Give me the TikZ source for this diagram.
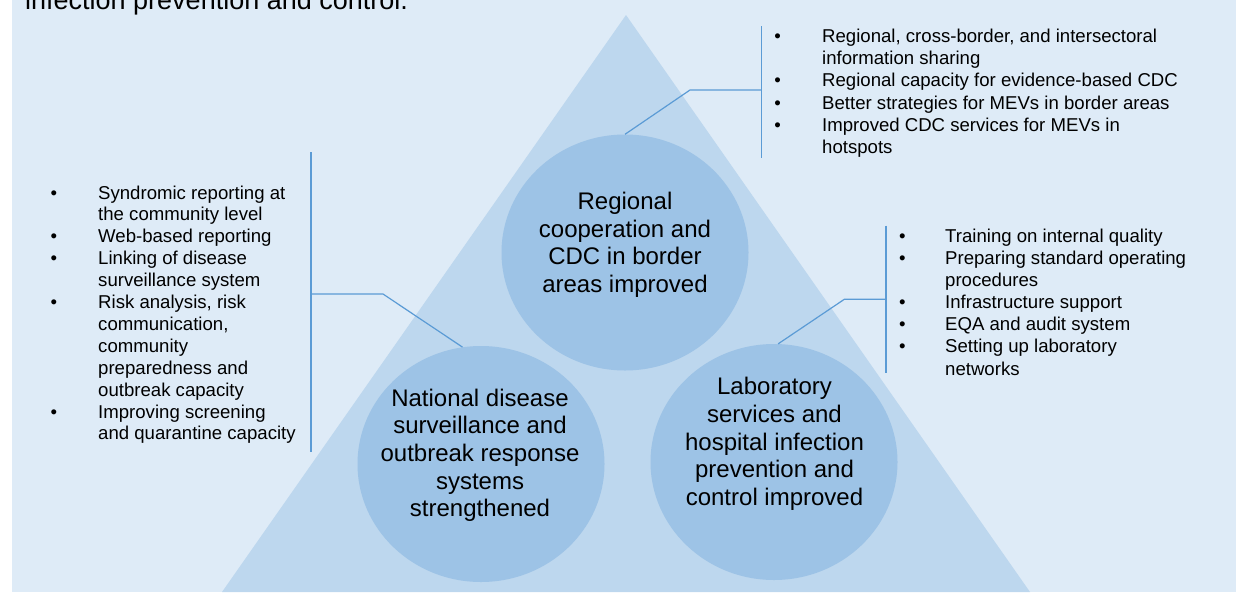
\documentclass[tikz,border=0pt]{standalone}
\usepackage{fontspec}
\setmainfont{Liberation Sans}
\usetikzlibrary{shapes.geometric}
\definecolor{pagebg}{HTML}{DEEBF7}
\definecolor{trifill}{HTML}{BDD7EE}
\definecolor{discfill}{HTML}{9DC3E6}
\definecolor{linkcol}{HTML}{5B9BD5}

\begin{document}
\begin{tikzpicture}[x=1pt,y=-1pt,
  disc/.style={ellipse, fill=discfill, draw=none, minimum width=247pt, minimum height=236pt, inner sep=0pt},
  disctext/.style={anchor=base, align=center, inner sep=0pt, font=\fontsize{24}{27.7}\selectfont},
  listline/.style={anchor=base west, inner sep=0pt, font=\fontsize{18.6}{22}\selectfont},
  listdot/.style={anchor=base, inner sep=0pt, font=\fontsize{18.6}{22}\selectfont},
  link/.style={draw=linkcol, line width=1.2pt}
]
\useasboundingbox (0,0) rectangle (1236,592);

% page background
\fill[pagebg] (12,0) rectangle (1236,592);

% running text from the page above
\node[anchor=base west, inner sep=0pt, font=\fontsize{27}{32}\selectfont] (head) at (25,9) {infection prevention and control.};

% pyramid
\fill[trifill] (626,15) -- (222,592) -- (1030,592) -- cycle;

% outcome discs
\node[disc] (c1) at (625,252.5) {};
\node[disc] (c2) at (481,464) {};
\node[disc] (c3) at (774,462) {};

% disc labels (anchored on the baseline of their last line)
\node[disctext] (t1) at (625,292.4) {Regional\\cooperation and\\CDC in border\\areas improved};
\node[disctext] (t2) at (480,516.8) {National disease\\surveillance and\\outbreak response\\systems\\strengthened};
\node[disctext] (t3) at (774.5,505.5) {Laboratory\\services and\\hospital infection\\prevention and\\control improved};

% brackets and leader lines
\coordinate (trT) at (761.7,26);
\coordinate (trB) at (761.7,158.3);
\coordinate (trE) at (761.7,90);
\coordinate (trK) at (690,90);
\draw[link] (trT) -- (trB);
\draw[link] (c1.north) -- (trK) -- (trE);

\coordinate (lfT) at (311,152);
\coordinate (lfB) at (311,452);
\coordinate (lfE) at (311,294);
\coordinate (lfK) at (383,294);
\draw[link] (lfT) -- (lfB);
\draw[link] (c2.99) -- (lfK) -- (lfE);

\coordinate (rtT) at (886,225.7);
\coordinate (rtB) at (886,372.7);
\coordinate (rtE) at (886,299.3);
\coordinate (rtK) at (844.3,299.3);
\draw[link] (rtT) -- (rtB);
\draw[link] (c3.88) -- (rtK) -- (rtE);

% activity lists
\foreach [count=\i] \b/\t in {
  1/{Syndromic reporting at},
  0/{the community level},
  1/{Web-based reporting},
  1/{Linking of disease},
  0/{surveillance system},
  1/{Risk analysis, risk},
  0/{communication,},
  0/{community},
  0/{preparedness and},
  0/{outbreak capacity},
  1/{Improving screening},
  0/{and quarantine capacity}}{
  \node[listline] (la\i) at (98,{199+(\i-1)*21.9}) {\t};
  \ifnum\b=1 \node[listdot] (lad\i) at (54,{199+(\i-1)*21.9}) {\textbullet};\fi
}

\foreach [count=\i] \b/\t in {
  1/{Regional, cross-border, and intersectoral},
  0/{information sharing},
  1/{Regional capacity for evidence-based CDC},
  1/{Better strategies for MEVs in border areas},
  1/{Improved CDC services for MEVs in},
  0/{hotspots}}{
  \node[listline] (lb\i) at (822,{42.7+(\i-1)*22.1}) {\t};
  \ifnum\b=1 \node[listdot] (lbd\i) at (777.7,{42.7+(\i-1)*22.1}) {\textbullet};\fi
}

\foreach [count=\i] \b/\t in {
  1/{Training on internal quality},
  1/{Preparing standard operating},
  0/{procedures},
  1/{Infrastructure support},
  1/{EQA and audit system},
  1/{Setting up laboratory},
  0/{networks}}{
  \node[listline] (lc\i) at (945,{242.7+(\i-1)*22.05}) {\t};
  \ifnum\b=1 \node[listdot] (lcd\i) at (902.3,{242.7+(\i-1)*22.05}) {\textbullet};\fi
}
\end{tikzpicture}
\end{document}
